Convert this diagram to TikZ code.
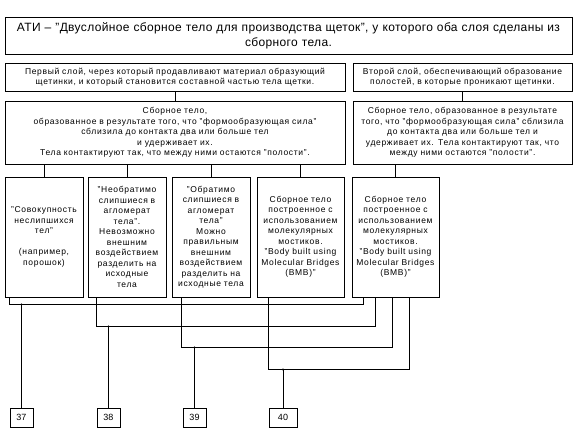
\documentclass[tikz,border=0pt]{standalone}
\usepackage{fontspec}
\setmainfont{Liberation Sans}
\usetikzlibrary{positioning}

\newcommand{\bodyfont}{\fontsize{8.5}{10.5}\selectfont\addfontfeature{LetterSpace=8}}
\newcommand{\headfont}{\fontsize{12}{15}\selectfont\addfontfeature{LetterSpace=3}}

\begin{document}
\begin{tikzpicture}[x=1pt, y=-1pt, line width=0.9pt,
    frame/.style={draw, align=center, inner sep=1pt, font=\bodyfont},
    cell/.style={frame, minimum height=120pt},
    numbox/.style={draw, minimum height=19pt, inner sep=0pt, font=\fontsize{9}{10}\selectfont}]

    \useasboundingbox (0,0) rectangle (576,432);

    % title
    \node [frame, font=\headfont, text width=565pt, minimum height=37pt] (ati) at (288.5,35.5)
        {АТИ – "Двуслойное сборное тело для производства щеток", у которого оба слоя сделаны из\\сборного тела.};

    % the two layers
    \node [frame, text width=338pt, minimum height=28pt] (layer1) at (175,77)
        {Первый слой, через который продавливают материал образующий\\щетинки, и который становится составной частью тела щетки.};
    \node [frame, text width=217pt, minimum height=28pt] (layer2) at (462.5,77)
        {Второй слой, обеспечивающий образование\\полостей, в которые проникают щетинки.};

    % composite body
    \node [frame, text width=338pt, minimum height=63pt] (body1) at (175,132.5)
        {Сборное тело,\\образованное в результате того, что "формообразующая сила"\\сблизила до контакта два или больше тел\\и удерживает их.\\Тела контактируют так, что между ними остаются "полости".};
    \node [frame, text width=217pt, minimum height=63pt] (body2) at (462.5,132.5)
        {Сборное тело, образованное в результате\\того, что "формообразующая сила" сблизила\\до контакта два или больше тел и\\удерживает их. Тела контактируют так, что\\между ними остаются "полости".};

    % kinds of body
    \node [cell, text width=76pt] (kind1) at (44,237)
        {"Совокупность\\неслипшихся\\тел"\\[10.5pt](например,\\порошок)};
    \node [cell, text width=76pt] (kind2) at (127,237)
        {"Необратимо\\слипшиеся в\\агломерат\\тела".\\Невозможно\\внешним\\воздействием\\разделить на\\исходные\\тела};
    \node [cell, text width=76pt] (kind3) at (211,237)
        {"Обратимо\\слипшиеся в\\агломерат\\тела"\\Можно\\правильным\\внешним\\воздействием\\разделить на\\исходные тела};
    \node [cell, text width=85pt] (kind4) at (300.5,237)
        {Сборное тело\\построенное с\\использованием\\молекулярных\\мостиков.\\"Body built using\\Molecular Bridges\\(BMB)"};
    \node [cell, text width=85pt] (kind5) at (395.5,237)
        {Сборное тело\\построенное с\\использованием\\молекулярных\\мостиков.\\"Body built using\\Molecular Bridges\\(BMB)"};

    % numbered claims
    \node [numbox, minimum width=23pt] (c37) at (21.5,417.5) {37};
    \node [numbox, minimum width=23pt] (c38) at (108.5,417.5) {38};
    \node [numbox, minimum width=23pt] (c39) at (194.5,417.5) {39};
    \node [numbox, minimum width=28pt] (c40) at (283,417.5) {40};

    % ticks between the rows
    \draw (layer1) -- (body1);
    \draw (layer2) -- (body2);
    \foreach \k in {1,2,3,4}
        \draw (body1.south -| kind\k) -- (kind\k.north);
    \draw (body2.south -| kind5) -- (kind5.north);

    % each claim joins one kind with the second layer kind
    \draw ([xshift=5pt]kind1.south west) -- ++(0,7) coordinate (j37) -| ([xshift=12pt]kind5.south west);
    \draw ([xshift=9pt]kind2.south west) -- ++(0,29) coordinate (j38) -| ([xshift=24pt]kind5.south west);
    \draw ([xshift=9.5pt]kind3.south west) -- ++(0,50) coordinate (j39) -| ([xshift=41pt]kind5.south west);
    \draw ([xshift=12pt]kind4.south west) -- ++(0,72) coordinate (j40) -| ([xshift=58pt]kind5.south west);

    \foreach \n in {37,38,39,40} {
        \draw (c\n.north) -- (c\n.north |- j\n);
        \fill (c\n.north |- j\n) circle (1.2pt);
    }
\end{tikzpicture}
\end{document}
